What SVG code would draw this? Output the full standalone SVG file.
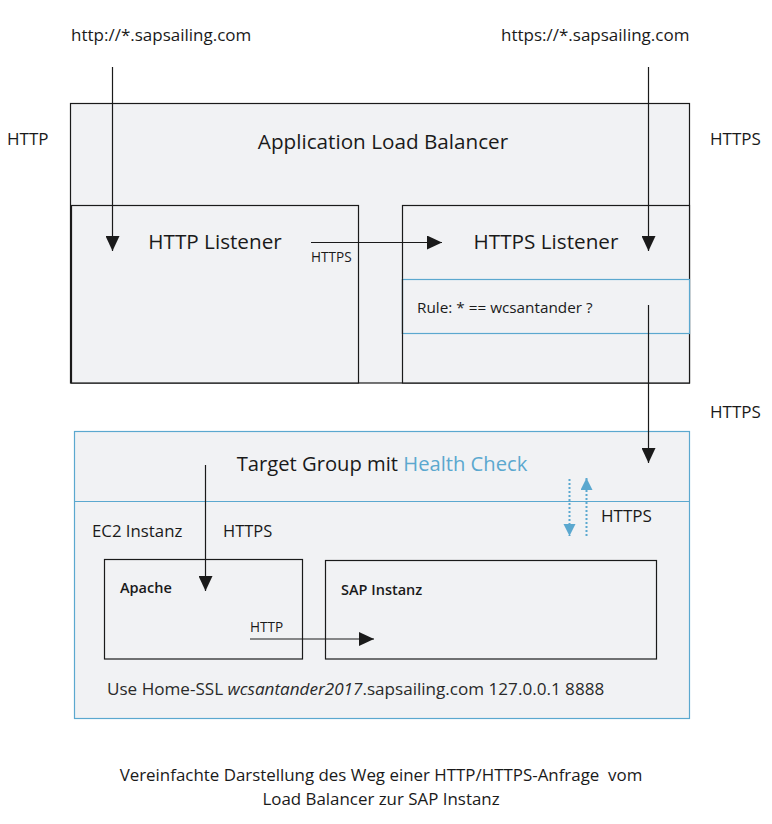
<svg xmlns="http://www.w3.org/2000/svg" width="772" height="824" viewBox="0 0 772 824">
<style>
text{font-family:"Open Sans","Liberation Sans",sans-serif;fill:#1a1a1a}
.box{fill:#f1f2f4;stroke:#1a1a1a;stroke-width:1.2}
.bbox{fill:#f1f2f4;stroke:#5ba8cf;stroke-width:1.2}
.ln{stroke:#1a1a1a;stroke-width:1.2;fill:none}
.dot{stroke:#5ba8cf;stroke-width:2;stroke-dasharray:2 2;fill:none}
.big{font-size:20.7px}
.mid{font-size:17px}
.sm{font-size:13.6px}
</style>
<defs>
<marker id="ah" markerWidth="16" markerHeight="14" refX="15" refY="7" orient="auto" markerUnits="userSpaceOnUse">
<path d="M0,0 L15,7 L0,14 Z" fill="#1a1a1a"/>
</marker>
<marker id="ahb" markerWidth="14" markerHeight="14" refX="12" refY="6" orient="auto" markerUnits="userSpaceOnUse">
<path d="M0,0 L12,6 L0,12 Z" fill="#5ba8cf"/>
</marker>
</defs>
<rect width="772" height="824" fill="#ffffff"/>

<g id="labels">
<text x="71" y="41" class="mid">http://*.sapsailing.com</text>
<text x="501" y="41" class="mid">https://*.sapsailing.com</text>
<text x="7" y="145" class="mid">HTTP</text>
<text x="710" y="145" class="mid">HTTPS</text>
<text x="710" y="418" class="mid">HTTPS</text>
<text x="381" y="781" text-anchor="middle" style="font-size:16.9px;white-space:pre">Vereinfachte Darstellung des Weg einer HTTP/HTTPS-Anfrage  vom</text>
<text x="381" y="805" text-anchor="middle" style="font-size:16.9px">Load Balancer zur SAP Instanz</text>
</g>

<g id="alb">
<rect class="box" x="70.5" y="103.5" width="619" height="279.5"/>
<text x="383" y="149" text-anchor="middle" class="big">Application Load Balancer</text>
</g>

<g id="http-listener">
<rect class="box" x="71.5" y="205.5" width="287" height="177.5"/>
<text x="215" y="249" text-anchor="middle" class="big">HTTP Listener</text>
</g>

<g id="https-listener">
<rect class="box" x="402.5" y="205.5" width="287" height="177.5"/>
<text x="546" y="249" text-anchor="middle" class="big">HTTPS Listener</text>
</g>

<g id="rule">
<rect x="402.5" y="279.5" width="287" height="54" fill="#f1f2f4" stroke="#5ba8cf" stroke-width="1.2"/>
<line x1="402.5" y1="279" x2="402.5" y2="334" class="ln"/>
<text x="417" y="313" style="font-size:15.3px">Rule: * == wcsantander ?</text>
</g>

<g id="target-group">
<rect class="bbox" x="74.5" y="431.5" width="615" height="287"/>
<line x1="74.5" y1="501.5" x2="689.5" y2="501.5" stroke="#5ba8cf" stroke-width="1.2"/>
<text x="382" y="471" text-anchor="middle" style="font-size:20.2px">Target Group mit <tspan style="fill:#5ba8cf">Health Check</tspan></text>
<text x="92" y="537" style="font-size:16.8px">EC2 Instanz</text>
<text x="107" y="695" style="font-size:17.1px;fill:#2a2a2a">Use Home-SSL <tspan font-style="italic">wcsantander2017</tspan>.sapsailing.com 127.0.0.1 8888</text>
</g>

<g id="apache">
<rect x="104.5" y="559.5" width="198" height="99.5" fill="none" stroke="#1a1a1a" stroke-width="1.2"/>
<text x="120" y="593" style="font-size:14.5px;font-weight:600">Apache</text>
</g>

<g id="sap">
<rect x="325.5" y="560.5" width="331" height="98.5" fill="none" stroke="#1a1a1a" stroke-width="1.2"/>
<text x="341" y="595" style="font-size:14.5px;font-weight:600">SAP Instanz</text>
</g>

<g id="connectors">
<line x1="112.5" y1="67" x2="112.5" y2="251" class="ln" marker-end="url(#ah)"/>
<line x1="648.5" y1="67" x2="648.5" y2="251" class="ln" marker-end="url(#ah)"/>
<line x1="311" y1="242.5" x2="442" y2="242.5" class="ln" marker-end="url(#ah)"/>
<text x="311" y="262" class="sm">HTTPS</text>
<line x1="648.5" y1="305" x2="648.5" y2="463" class="ln" marker-end="url(#ah)"/>
<line x1="205.5" y1="465" x2="205.5" y2="591" class="ln" marker-end="url(#ah)"/>
<text x="223" y="537" style="font-size:16.5px">HTTPS</text>
<line x1="250" y1="639" x2="374" y2="639" class="ln" marker-end="url(#ah)"/>
<text x="250" y="632" class="sm">HTTP</text>
<line x1="569.5" y1="479" x2="569.5" y2="536" class="dot" marker-end="url(#ahb)"/>
<line x1="586.5" y1="536" x2="586.5" y2="478" class="dot" marker-end="url(#ahb)"/>
<text x="601" y="522" class="mid">HTTPS</text>
</g>
</svg>
